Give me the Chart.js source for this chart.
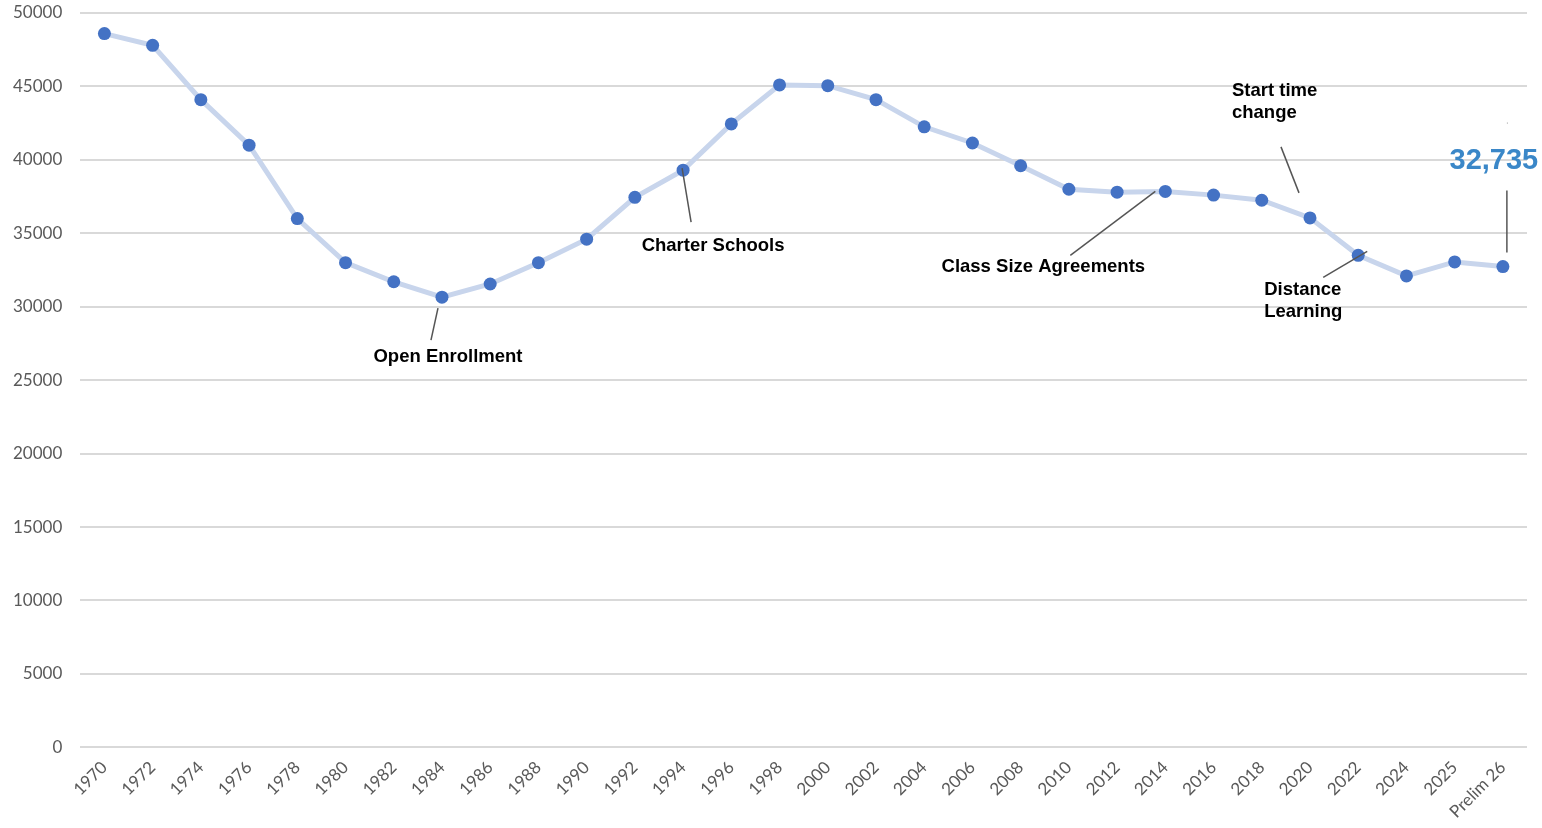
<!DOCTYPE html>
<html>
<head>
<meta charset="utf-8">
<script src="https://cdn.jsdelivr.net/npm/chart.js@4/dist/chart.umd.min.js"></script>
<style>
  html, body { margin: 0; padding: 0; background: #fff; }
  canvas { display: block; }
</style>
</head>
<body>
<canvas id="enrollChart" width="1542" height="828"></canvas>
<script>
// x categories (school years)
const years = [
  "1970", "1972", "1974", "1976", "1978", "1980", "1982", "1984", "1986", "1988",
  "1990", "1992", "1994", "1996", "1998", "2000", "2002", "2004", "2006", "2008",
  "2010", "2012", "2014", "2016", "2018", "2020", "2022", "2024", "2025", "Prelim 26"
];

// enrollment
const enrollment = [
  48600, 47800, 44100, 41000, 36000, 33000, 31700, 30650, 31550, 33000,
  34600, 37450, 39300, 42450, 45100, 45050, 44100, 42250, 41150, 39600,
  38000, 37800, 37850, 37600, 37250, 36050, 33500, 32100, 33050, 32735
];

const yTicks = [0, 5000, 10000, 15000, 20000, 25000, 30000, 35000, 40000, 45000, 50000];

// callouts: anchored on a category, offsets in px from that point
const callouts = [
  { at: "1984", lines: ["Open Enrollment"], align: "center", tx: 6, ty: 60, leader: [-4, 11, -11, 43] },
  { at: "1994", lines: ["Charter Schools"], align: "center", tx: 30, ty: 76, leader: [-1, -2, 8, 52] },
  { at: "2014", lines: ["Class Size Agreements"], align: "center", tx: -122, ty: 75, leader: [-10, 0, -95, 64] },
  { at: "2020", lines: ["Start time", "change"], align: "left", tx: -78, ty: -127, leader: [-29, -71, -11, -25] },
  { at: "2022", lines: ["Distance", "Learning"], align: "left", tx: -94, ty: 35, leader: [9, -4, -35, 22] }
];

const calloutPlugin = {
  id: "callouts",
  afterDatasetsDraw(chart) {
    const ctx = chart.ctx;
    const x = chart.scales.x, y = chart.scales.y;
    ctx.save();
    ctx.lineWidth = 1.5;
    ctx.strokeStyle = "#555";
    ctx.fillStyle = "#000";
    ctx.font = "bold 18.5px 'Liberation Sans', Arial, sans-serif";
    ctx.textBaseline = "middle";
    callouts.forEach((c) => {
      const i = years.indexOf(c.at);
      const px = x.getPixelForValue(i);
      const py = y.getPixelForValue(enrollment[i]);
      const l = c.leader;
      ctx.beginPath();
      ctx.moveTo(px + l[0], py + l[1]);
      ctx.lineTo(px + l[2], py + l[3]);
      ctx.stroke();
      ctx.textAlign = c.align;
      c.lines.forEach((t, k) => {
        ctx.fillText(t, px + c.tx, py + c.ty + k * 22);
      });
    });

    // latest value label
    const last = enrollment.length - 1;
    const lx = x.getPixelForValue(last);
    const ly = y.getPixelForValue(enrollment[last]);
    ctx.beginPath();
    ctx.moveTo(lx + 4, ly - 14);
    ctx.lineTo(lx + 4, ly - 76);
    ctx.stroke();
    ctx.fillStyle = "#999";
    ctx.fillRect(lx + 4, ly - 144, 1, 1);
    ctx.fillStyle = "#3a87c8";
    ctx.font = "bold 29px 'Liberation Sans', Arial, sans-serif";
    ctx.textAlign = "center";
    ctx.fillText(enrollment[last].toLocaleString("en-US"), lx - 9, ly - 106);
    ctx.restore();
  }
};

const ctx = document.getElementById("enrollChart");
new Chart(ctx, {
  type: "line",
  data: {
    labels: years,
    datasets: [
      {
        data: enrollment,
        borderColor: "#c8d5ec",
        borderWidth: 5,
        pointRadius: 6.5,
        pointBackgroundColor: "#4472c4",
        pointBorderColor: "#4472c4",
        pointBorderWidth: 0,
        tension: 0,
        fill: false
      }
    ]
  },
  options: {
    responsive: false,
    animation: false,
    layout: { autoPadding: false, padding: { left: -5, right: 15, top: 13, bottom: 4 } },
    plugins: {
      legend: { display: false },
      tooltip: { enabled: false }
    },
    scales: {
      x: {
        offset: true,
        grid: { display: false },
        border: { display: false },
        ticks: {
          autoSkip: false,
          minRotation: 45,
          maxRotation: 45,
          color: "#595959",
          padding: 2,
          font: { family: "Lato", size: 17 }
        }
      },
      y: {
        min: 0,
        max: 50000,
        afterBuildTicks: (axis) => {
          axis.ticks = yTicks.map((v) => ({ value: v }));
        },
        afterFit: (axis) => {
          // label gap should not push the plot down
          axis.paddingTop = 0;
        },
        grid: { color: "#d9d9d9", lineWidth: 2, drawTicks: false },
        border: { display: false },
        ticks: {
          color: "#595959",
          padding: 18,
          font: { family: "Lato", size: 17 },
          callback: (v) => String(v)
        }
      }
    }
  },
  plugins: [calloutPlugin]
});
</script>
</body>
</html>
